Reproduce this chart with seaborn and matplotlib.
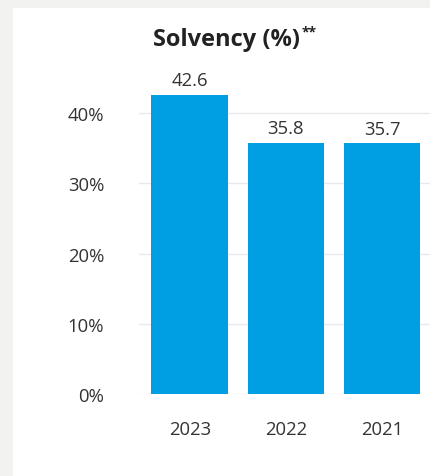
import matplotlib
matplotlib.use("Agg")
import matplotlib.pyplot as plt
import matplotlib.patches as mpatches
import seaborn as sns
import pandas as pd

years = ["2023", "2022", "2021"]
solvency = [42.6, 35.8, 35.7]
yticks = [0, 10, 20, 30, 40]
ytick_labels = ["0%", "10%", "20%", "30%", "40%"]
title = "Solvency (%)"
title_sup = "**"

sns.set_theme(style="white")
plt.rcParams["font.family"] = ["Open Sans", "DejaVu Sans"]

df = pd.DataFrame({"year": years, "solvency": solvency})

W, H = 430, 477
fig = plt.figure(figsize=(W / 100, H / 100), dpi=100, facecolor="#f2f2f0")
fig.patches.append(mpatches.Rectangle((13 / W, 0), 1 - 13 / W, 1 - 9 / H,
                                      transform=fig.transFigure, facecolor="white",
                                      edgecolor="none", zorder=-5))
ax = fig.add_axes([139 / W, 1 - 395 / H, 1 - 139 / W, (395 - 79) / H])
ax.set_facecolor("none")
ax.set_zorder(2)

sns.barplot(data=df, x="year", y="solvency", color="#009fe3", saturation=1,
            width=0.8, ax=ax, zorder=3, linewidth=0, edgecolor="none")
ax.set_xlim(-0.53, 2.5)
ax.set_ylim(0, 45)
ax.set_yticks(yticks)
ax.set_yticklabels(ytick_labels)
ax.set_xlabel("")
ax.set_ylabel("")
for s in ax.spines.values():
    s.set_visible(False)
ax.grid(axis="y", color="#e8e8ee", linewidth=1, zorder=0)
ax.tick_params(axis="y", length=0, pad=25, labelsize=13.3, labelcolor="#333333")
ax.tick_params(axis="x", length=0, pad=19, labelsize=13.3, labelcolor="#333333")

for i, v in enumerate(solvency):
    ax.annotate(f"{v:.1f}", (i, v), xytext=(0, 4), textcoords="offset points",
                ha="center", va="bottom", fontsize=13.3, color="#333333")

t = fig.text(153 / W, 1 - 46 / H, title, fontsize=17, fontweight="bold",
             color="#222222", ha="left", va="baseline")
fig.canvas.draw()
bb = t.get_window_extent()
fig.text((bb.x1 + 1.5) / W, 1 - 36 / H, title_sup, fontsize=10, fontweight="bold",
         color="#222222", ha="left", va="baseline")

fig.savefig("out.png", dpi=100, facecolor=fig.get_facecolor())
